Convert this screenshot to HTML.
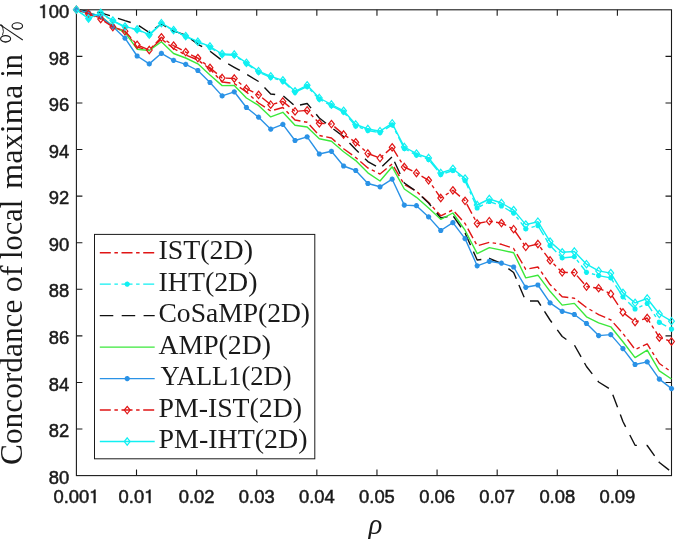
<!DOCTYPE html><html><head><meta charset="utf-8"><style>html,body{margin:0;padding:0;background:#fff;}svg{display:block;will-change:transform;}</style></head><body>
<svg width="685" height="539" viewBox="0 0 685 539">
<rect width="685" height="539" fill="#fff"/>
<defs><clipPath id="c"><rect x="70.4" y="3.8000000000000007" width="607.1" height="477.8"/></clipPath></defs>
<rect x="76.4" y="9.8" width="595.1" height="465.8" fill="none" stroke="#1a1a1a" stroke-width="1.1"/>
<path d="M136.51 475.6V469.6M136.51 9.8V15.8M196.62 475.6V469.6M196.62 9.8V15.8M256.73 475.6V469.6M256.73 9.8V15.8M316.84 475.6V469.6M316.84 9.8V15.8M376.96 475.6V469.6M376.96 9.8V15.8M437.07 475.6V469.6M437.07 9.8V15.8M497.18 475.6V469.6M497.18 9.8V15.8M557.29 475.6V469.6M557.29 9.8V15.8M617.40 475.6V469.6M617.40 9.8V15.8M76.4 429.02H82.4M671.5 429.02H665.5M76.4 382.44H82.4M671.5 382.44H665.5M76.4 335.86H82.4M671.5 335.86H665.5M76.4 289.28H82.4M671.5 289.28H665.5M76.4 242.70H82.4M671.5 242.70H665.5M76.4 196.12H82.4M671.5 196.12H665.5M76.4 149.54H82.4M671.5 149.54H665.5M76.4 102.96H82.4M671.5 102.96H665.5M76.4 56.38H82.4M671.5 56.38H665.5" stroke="#1a1a1a" stroke-width="1.1" fill="none"/>
<g fill="none" stroke-linejoin="round" clip-path="url(#c)"><polyline points="76.40,9.70 88.54,13.50 100.69,18.00 112.83,26.50 124.98,31.50 137.12,47.00 149.27,50.50 161.41,39.00 173.56,48.50 185.70,55.00 197.85,60.00 209.99,69.00 222.14,82.00 234.28,83.50 246.43,92.00 258.57,103.00 270.72,111.00 282.86,107.50 295.01,120.00 307.15,122.30 319.30,135.50 331.44,138.00 343.59,148.70 355.73,157.50 367.88,168.00 380.02,174.00 392.17,164.00 404.31,184.60 416.46,191.30 428.60,202.40 440.75,215.80 452.89,209.90 465.04,223.50 477.18,245.80 489.33,242.30 501.47,244.30 513.62,248.50 525.76,269.30 537.91,267.00 550.05,284.60 562.20,296.80 574.34,298.20 586.49,307.50 598.63,314.60 610.78,319.80 622.92,333.40 635.07,349.50 647.21,343.90 659.36,363.50 671.50,372.00" stroke="#E01515" stroke-width="1.4" stroke-dasharray="10.797 3.534 3.435 3.534" stroke-dashoffset="16.15"/></g>
<g fill="none" stroke-linejoin="round" clip-path="url(#c)"><polyline points="76.40,9.70 88.54,18.50 100.69,12.80 112.83,21.10 124.98,27.10 137.12,29.90 149.27,35.10 161.41,23.70 173.56,30.60 185.70,36.60 197.85,42.20 209.99,47.30 222.14,54.80 234.28,55.30 246.43,63.60 258.57,72.20 270.72,77.30 282.86,81.30 295.01,92.30 307.15,86.50 319.30,99.20 331.44,105.70 343.59,112.10 355.73,126.00 367.88,130.50 380.02,132.70 392.17,124.90 404.31,148.50 416.46,155.10 428.60,159.50 440.75,174.50 452.89,170.50 465.04,180.60 477.18,208.00 489.33,201.50 501.47,206.00 513.62,213.10 525.76,228.90 537.91,225.60 550.05,245.60 562.20,257.90 574.34,256.70 586.49,272.30 598.63,275.60 610.78,277.90 622.92,296.80 635.07,309.00 647.21,303.50 659.36,322.40 671.50,329.10" stroke="#10F0F2" stroke-width="1.4" stroke-dasharray="10.76 3.52 3.42 3.52"/></g>
<g fill="none"><circle cx="76.40" cy="9.70" r="1.7" fill="#10F0F2"/><path d="M73.80 9.70L79.00 9.70M74.56 7.86L78.24 11.54M76.40 7.10L76.40 12.30M78.24 7.86L74.56 11.54" stroke="#10F0F2" stroke-width="1.6"/><circle cx="88.54" cy="18.50" r="1.7" fill="#10F0F2"/><path d="M85.94 18.50L91.14 18.50M86.71 16.66L90.38 20.34M88.54 15.90L88.54 21.10M90.38 16.66L86.71 20.34" stroke="#10F0F2" stroke-width="1.6"/><circle cx="100.69" cy="12.80" r="1.7" fill="#10F0F2"/><path d="M98.09 12.80L103.29 12.80M98.85 10.96L102.53 14.64M100.69 10.20L100.69 15.40M102.53 10.96L98.85 14.64" stroke="#10F0F2" stroke-width="1.6"/><circle cx="112.83" cy="21.10" r="1.7" fill="#10F0F2"/><path d="M110.23 21.10L115.43 21.10M111.00 19.26L114.67 22.94M112.83 18.50L112.83 23.70M114.67 19.26L111.00 22.94" stroke="#10F0F2" stroke-width="1.6"/><circle cx="124.98" cy="27.10" r="1.7" fill="#10F0F2"/><path d="M122.38 27.10L127.58 27.10M123.14 25.26L126.82 28.94M124.98 24.50L124.98 29.70M126.82 25.26L123.14 28.94" stroke="#10F0F2" stroke-width="1.6"/><circle cx="137.12" cy="29.90" r="1.7" fill="#10F0F2"/><path d="M134.52 29.90L139.72 29.90M135.29 28.06L138.96 31.74M137.12 27.30L137.12 32.50M138.96 28.06L135.29 31.74" stroke="#10F0F2" stroke-width="1.6"/><circle cx="149.27" cy="35.10" r="1.7" fill="#10F0F2"/><path d="M146.67 35.10L151.87 35.10M147.43 33.26L151.11 36.94M149.27 32.50L149.27 37.70M151.11 33.26L147.43 36.94" stroke="#10F0F2" stroke-width="1.6"/><circle cx="161.41" cy="23.70" r="1.7" fill="#10F0F2"/><path d="M158.81 23.70L164.01 23.70M159.58 21.86L163.25 25.54M161.41 21.10L161.41 26.30M163.25 21.86L159.58 25.54" stroke="#10F0F2" stroke-width="1.6"/><circle cx="173.56" cy="30.60" r="1.7" fill="#10F0F2"/><path d="M170.96 30.60L176.16 30.60M171.72 28.76L175.40 32.44M173.56 28.00L173.56 33.20M175.40 28.76L171.72 32.44" stroke="#10F0F2" stroke-width="1.6"/><circle cx="185.70" cy="36.60" r="1.7" fill="#10F0F2"/><path d="M183.10 36.60L188.30 36.60M183.87 34.76L187.54 38.44M185.70 34.00L185.70 39.20M187.54 34.76L183.87 38.44" stroke="#10F0F2" stroke-width="1.6"/><circle cx="197.85" cy="42.20" r="1.7" fill="#10F0F2"/><path d="M195.25 42.20L200.45 42.20M196.01 40.36L199.69 44.04M197.85 39.60L197.85 44.80M199.69 40.36L196.01 44.04" stroke="#10F0F2" stroke-width="1.6"/><circle cx="209.99" cy="47.30" r="1.7" fill="#10F0F2"/><path d="M207.39 47.30L212.59 47.30M208.16 45.46L211.83 49.14M209.99 44.70L209.99 49.90M211.83 45.46L208.16 49.14" stroke="#10F0F2" stroke-width="1.6"/><circle cx="222.14" cy="54.80" r="1.7" fill="#10F0F2"/><path d="M219.54 54.80L224.74 54.80M220.30 52.96L223.98 56.64M222.14 52.20L222.14 57.40M223.98 52.96L220.30 56.64" stroke="#10F0F2" stroke-width="1.6"/><circle cx="234.28" cy="55.30" r="1.7" fill="#10F0F2"/><path d="M231.68 55.30L236.88 55.30M232.45 53.46L236.12 57.14M234.28 52.70L234.28 57.90M236.12 53.46L232.45 57.14" stroke="#10F0F2" stroke-width="1.6"/><circle cx="246.43" cy="63.60" r="1.7" fill="#10F0F2"/><path d="M243.83 63.60L249.03 63.60M244.59 61.76L248.27 65.44M246.43 61.00L246.43 66.20M248.27 61.76L244.59 65.44" stroke="#10F0F2" stroke-width="1.6"/><circle cx="258.57" cy="72.20" r="1.7" fill="#10F0F2"/><path d="M255.97 72.20L261.17 72.20M256.73 70.36L260.41 74.04M258.57 69.60L258.57 74.80M260.41 70.36L256.73 74.04" stroke="#10F0F2" stroke-width="1.6"/><circle cx="270.72" cy="77.30" r="1.7" fill="#10F0F2"/><path d="M268.12 77.30L273.32 77.30M268.88 75.46L272.56 79.14M270.72 74.70L270.72 79.90M272.56 75.46L268.88 79.14" stroke="#10F0F2" stroke-width="1.6"/><circle cx="282.86" cy="81.30" r="1.7" fill="#10F0F2"/><path d="M280.26 81.30L285.46 81.30M281.02 79.46L284.70 83.14M282.86 78.70L282.86 83.90M284.70 79.46L281.02 83.14" stroke="#10F0F2" stroke-width="1.6"/><circle cx="295.01" cy="92.30" r="1.7" fill="#10F0F2"/><path d="M292.41 92.30L297.61 92.30M293.17 90.46L296.85 94.14M295.01 89.70L295.01 94.90M296.85 90.46L293.17 94.14" stroke="#10F0F2" stroke-width="1.6"/><circle cx="307.15" cy="86.50" r="1.7" fill="#10F0F2"/><path d="M304.55 86.50L309.75 86.50M305.31 84.66L308.99 88.34M307.15 83.90L307.15 89.10M308.99 84.66L305.31 88.34" stroke="#10F0F2" stroke-width="1.6"/><circle cx="319.30" cy="99.20" r="1.7" fill="#10F0F2"/><path d="M316.70 99.20L321.90 99.20M317.46 97.36L321.14 101.04M319.30 96.60L319.30 101.80M321.14 97.36L317.46 101.04" stroke="#10F0F2" stroke-width="1.6"/><circle cx="331.44" cy="105.70" r="1.7" fill="#10F0F2"/><path d="M328.84 105.70L334.04 105.70M329.60 103.86L333.28 107.54M331.44 103.10L331.44 108.30M333.28 103.86L329.60 107.54" stroke="#10F0F2" stroke-width="1.6"/><circle cx="343.59" cy="112.10" r="1.7" fill="#10F0F2"/><path d="M340.99 112.10L346.19 112.10M341.75 110.26L345.43 113.94M343.59 109.50L343.59 114.70M345.43 110.26L341.75 113.94" stroke="#10F0F2" stroke-width="1.6"/><circle cx="355.73" cy="126.00" r="1.7" fill="#10F0F2"/><path d="M353.13 126.00L358.33 126.00M353.89 124.16L357.57 127.84M355.73 123.40L355.73 128.60M357.57 124.16L353.89 127.84" stroke="#10F0F2" stroke-width="1.6"/><circle cx="367.88" cy="130.50" r="1.7" fill="#10F0F2"/><path d="M365.28 130.50L370.48 130.50M366.04 128.66L369.72 132.34M367.88 127.90L367.88 133.10M369.72 128.66L366.04 132.34" stroke="#10F0F2" stroke-width="1.6"/><circle cx="380.02" cy="132.70" r="1.7" fill="#10F0F2"/><path d="M377.42 132.70L382.62 132.70M378.18 130.86L381.86 134.54M380.02 130.10L380.02 135.30M381.86 130.86L378.18 134.54" stroke="#10F0F2" stroke-width="1.6"/><circle cx="392.17" cy="124.90" r="1.7" fill="#10F0F2"/><path d="M389.57 124.90L394.77 124.90M390.33 123.06L394.01 126.74M392.17 122.30L392.17 127.50M394.01 123.06L390.33 126.74" stroke="#10F0F2" stroke-width="1.6"/><circle cx="404.31" cy="148.50" r="1.7" fill="#10F0F2"/><path d="M401.71 148.50L406.91 148.50M402.47 146.66L406.15 150.34M404.31 145.90L404.31 151.10M406.15 146.66L402.47 150.34" stroke="#10F0F2" stroke-width="1.6"/><circle cx="416.46" cy="155.10" r="1.7" fill="#10F0F2"/><path d="M413.86 155.10L419.06 155.10M414.62 153.26L418.30 156.94M416.46 152.50L416.46 157.70M418.30 153.26L414.62 156.94" stroke="#10F0F2" stroke-width="1.6"/><circle cx="428.60" cy="159.50" r="1.7" fill="#10F0F2"/><path d="M426.00 159.50L431.20 159.50M426.76 157.66L430.44 161.34M428.60 156.90L428.60 162.10M430.44 157.66L426.76 161.34" stroke="#10F0F2" stroke-width="1.6"/><circle cx="440.75" cy="174.50" r="1.7" fill="#10F0F2"/><path d="M438.15 174.50L443.35 174.50M438.91 172.66L442.59 176.34M440.75 171.90L440.75 177.10M442.59 172.66L438.91 176.34" stroke="#10F0F2" stroke-width="1.6"/><circle cx="452.89" cy="170.50" r="1.7" fill="#10F0F2"/><path d="M450.29 170.50L455.49 170.50M451.05 168.66L454.73 172.34M452.89 167.90L452.89 173.10M454.73 168.66L451.05 172.34" stroke="#10F0F2" stroke-width="1.6"/><circle cx="465.04" cy="180.60" r="1.7" fill="#10F0F2"/><path d="M462.44 180.60L467.64 180.60M463.20 178.76L466.88 182.44M465.04 178.00L465.04 183.20M466.88 178.76L463.20 182.44" stroke="#10F0F2" stroke-width="1.6"/><circle cx="477.18" cy="208.00" r="1.7" fill="#10F0F2"/><path d="M474.58 208.00L479.78 208.00M475.34 206.16L479.02 209.84M477.18 205.40L477.18 210.60M479.02 206.16L475.34 209.84" stroke="#10F0F2" stroke-width="1.6"/><circle cx="489.33" cy="201.50" r="1.7" fill="#10F0F2"/><path d="M486.73 201.50L491.93 201.50M487.49 199.66L491.17 203.34M489.33 198.90L489.33 204.10M491.17 199.66L487.49 203.34" stroke="#10F0F2" stroke-width="1.6"/><circle cx="501.47" cy="206.00" r="1.7" fill="#10F0F2"/><path d="M498.87 206.00L504.07 206.00M499.63 204.16L503.31 207.84M501.47 203.40L501.47 208.60M503.31 204.16L499.63 207.84" stroke="#10F0F2" stroke-width="1.6"/><circle cx="513.62" cy="213.10" r="1.7" fill="#10F0F2"/><path d="M511.02 213.10L516.22 213.10M511.78 211.26L515.45 214.94M513.62 210.50L513.62 215.70M515.45 211.26L511.78 214.94" stroke="#10F0F2" stroke-width="1.6"/><circle cx="525.76" cy="228.90" r="1.7" fill="#10F0F2"/><path d="M523.16 228.90L528.36 228.90M523.92 227.06L527.60 230.74M525.76 226.30L525.76 231.50M527.60 227.06L523.92 230.74" stroke="#10F0F2" stroke-width="1.6"/><circle cx="537.91" cy="225.60" r="1.7" fill="#10F0F2"/><path d="M535.31 225.60L540.51 225.60M536.07 223.76L539.74 227.44M537.91 223.00L537.91 228.20M539.74 223.76L536.07 227.44" stroke="#10F0F2" stroke-width="1.6"/><circle cx="550.05" cy="245.60" r="1.7" fill="#10F0F2"/><path d="M547.45 245.60L552.65 245.60M548.21 243.76L551.89 247.44M550.05 243.00L550.05 248.20M551.89 243.76L548.21 247.44" stroke="#10F0F2" stroke-width="1.6"/><circle cx="562.20" cy="257.90" r="1.7" fill="#10F0F2"/><path d="M559.60 257.90L564.80 257.90M560.36 256.06L564.03 259.74M562.20 255.30L562.20 260.50M564.03 256.06L560.36 259.74" stroke="#10F0F2" stroke-width="1.6"/><circle cx="574.34" cy="256.70" r="1.7" fill="#10F0F2"/><path d="M571.74 256.70L576.94 256.70M572.50 254.86L576.18 258.54M574.34 254.10L574.34 259.30M576.18 254.86L572.50 258.54" stroke="#10F0F2" stroke-width="1.6"/><circle cx="586.49" cy="272.30" r="1.7" fill="#10F0F2"/><path d="M583.89 272.30L589.09 272.30M584.65 270.46L588.32 274.14M586.49 269.70L586.49 274.90M588.32 270.46L584.65 274.14" stroke="#10F0F2" stroke-width="1.6"/><circle cx="598.63" cy="275.60" r="1.7" fill="#10F0F2"/><path d="M596.03 275.60L601.23 275.60M596.79 273.76L600.47 277.44M598.63 273.00L598.63 278.20M600.47 273.76L596.79 277.44" stroke="#10F0F2" stroke-width="1.6"/><circle cx="610.78" cy="277.90" r="1.7" fill="#10F0F2"/><path d="M608.18 277.90L613.38 277.90M608.94 276.06L612.61 279.74M610.78 275.30L610.78 280.50M612.61 276.06L608.94 279.74" stroke="#10F0F2" stroke-width="1.6"/><circle cx="622.92" cy="296.80" r="1.7" fill="#10F0F2"/><path d="M620.32 296.80L625.52 296.80M621.08 294.96L624.76 298.64M622.92 294.20L622.92 299.40M624.76 294.96L621.08 298.64" stroke="#10F0F2" stroke-width="1.6"/><circle cx="635.07" cy="309.00" r="1.7" fill="#10F0F2"/><path d="M632.47 309.00L637.67 309.00M633.23 307.16L636.90 310.84M635.07 306.40L635.07 311.60M636.90 307.16L633.23 310.84" stroke="#10F0F2" stroke-width="1.6"/><circle cx="647.21" cy="303.50" r="1.7" fill="#10F0F2"/><path d="M644.61 303.50L649.81 303.50M645.37 301.66L649.05 305.34M647.21 300.90L647.21 306.10M649.05 301.66L645.37 305.34" stroke="#10F0F2" stroke-width="1.6"/><circle cx="659.36" cy="322.40" r="1.7" fill="#10F0F2"/><path d="M656.76 322.40L661.96 322.40M657.52 320.56L661.19 324.24M659.36 319.80L659.36 325.00M661.19 320.56L657.52 324.24" stroke="#10F0F2" stroke-width="1.6"/><circle cx="671.50" cy="329.10" r="1.7" fill="#10F0F2"/><path d="M668.90 329.10L674.10 329.10M669.66 327.26L673.34 330.94M671.50 326.50L671.50 331.70M673.34 327.26L669.66 330.94" stroke="#10F0F2" stroke-width="1.6"/></g>
<g fill="none" stroke-linejoin="round" clip-path="url(#c)"><path d="M76.40 9.70L88.52 11.50M96.97 12.40L100.69 12.80L109.93 15.62M118.00 18.29L124.98 20.70L130.72 22.50M138.80 25.60L149.27 32.50L149.98 32.00M155.08 28.43L161.41 24.00L166.36 26.77M171.80 29.82L173.56 30.80L184.26 34.68M191.10 39.24L197.85 44.30L202.18 46.73M210.10 51.18L220.70 59.38M228.20 63.89L234.28 67.30L239.87 70.48M247.20 74.66L258.57 81.50L258.66 81.59M264.50 87.60L270.72 94.00L275.16 94.55M283.40 95.96L293.54 104.73M300.00 104.97L307.15 103.50L311.07 108.17M316.20 114.30L319.30 118.00L326.03 123.32M333.40 129.05L343.59 136.60L344.08 137.13M349.50 142.93L355.73 149.60L358.77 152.60M365.00 158.76L367.88 161.60L376.01 166.22M382.30 166.31L391.95 157.01M394.50 161.83L400.14 173.99M403.90 182.11L404.31 183.00L414.49 190.12M421.70 196.46L428.60 203.00L431.05 206.03M436.70 213.00L440.75 218.00L447.57 216.59M453.40 216.23L461.04 227.24M465.00 232.95L465.04 233.00L470.51 245.16M473.40 251.59L477.18 260.00L481.33 259.49M489.00 258.54L489.33 258.50L501.41 263.48M508.40 268.63L513.62 272.50L516.32 278.85M518.90 284.90L524.15 297.23M530.00 301.00L537.91 301.00L540.87 305.63M544.50 311.32L550.05 320.00L551.88 322.49M557.30 329.85L562.20 336.50L566.41 339.45M574.50 345.28L581.09 356.95M584.50 362.98L586.49 366.50L592.26 373.87M597.80 380.94L598.63 382.00L608.89 388.33M612.80 394.83L617.55 407.36M620.30 414.60L622.92 421.50L625.65 426.86M629.80 434.98L635.07 445.30L636.88 445.33M646.50 445.49L647.21 445.50L654.59 455.83M658.80 461.72L659.36 462.50L669.16 470.17" stroke="#111111" stroke-width="1.4"/></g>
<g fill="none" stroke-linejoin="round" clip-path="url(#c)"><polyline points="76.40,9.70 88.54,13.00 100.69,16.00 112.83,26.30 124.98,32.30 137.12,49.20 149.27,50.50 161.41,41.70 173.56,53.50 185.70,58.00 197.85,63.80 209.99,75.00 222.14,85.60 234.28,85.40 246.43,98.00 258.57,105.40 270.72,116.90 282.86,112.30 295.01,125.30 307.15,127.00 319.30,138.70 331.44,141.30 343.59,151.80 355.73,160.60 367.88,172.80 380.02,181.00 392.17,166.80 404.31,189.00 416.46,197.30 428.60,208.00 440.75,219.30 452.89,213.00 465.04,230.20 477.18,253.60 489.33,247.60 501.47,250.10 513.62,252.70 525.76,277.90 537.91,275.20 550.05,291.30 562.20,305.10 574.34,303.40 586.49,316.80 598.63,322.80 610.78,326.80 622.92,341.80 635.07,357.60 647.21,350.10 659.36,370.80 671.50,379.00" stroke="#3BE83B" stroke-width="1.4"/></g>
<g fill="none" stroke-linejoin="round" clip-path="url(#c)"><polyline points="76.40,9.70 88.54,13.00 100.69,16.50 112.83,26.50 124.98,38.20 137.12,56.00 149.27,63.90 161.41,53.30 173.56,60.30 185.70,64.30 197.85,70.50 209.99,82.50 222.14,95.90 234.28,91.80 246.43,107.50 258.57,117.20 270.72,129.20 282.86,124.40 295.01,140.50 307.15,136.80 319.30,154.00 331.44,151.30 343.59,166.00 355.73,170.50 367.88,183.50 380.02,186.80 392.17,179.20 404.31,205.10 416.46,205.70 428.60,216.90 440.75,230.50 452.89,222.60 465.04,238.60 477.18,265.80 489.33,261.30 501.47,263.20 513.62,267.00 525.76,287.30 537.91,285.00 550.05,302.90 562.20,311.30 574.34,314.50 586.49,323.50 598.63,335.60 610.78,334.60 622.92,348.60 635.07,364.50 647.21,361.90 659.36,379.10 671.50,388.60" stroke="#2A92E6" stroke-width="1.4"/></g>
<g fill="none"><circle cx="76.40" cy="9.70" r="1.7" fill="#2A92E6"/><path d="M73.80 9.70L79.00 9.70M74.56 7.86L78.24 11.54M76.40 7.10L76.40 12.30M78.24 7.86L74.56 11.54" stroke="#2A92E6" stroke-width="1.6"/><circle cx="88.54" cy="13.00" r="1.7" fill="#2A92E6"/><path d="M85.94 13.00L91.14 13.00M86.71 11.16L90.38 14.84M88.54 10.40L88.54 15.60M90.38 11.16L86.71 14.84" stroke="#2A92E6" stroke-width="1.6"/><circle cx="100.69" cy="16.50" r="1.7" fill="#2A92E6"/><path d="M98.09 16.50L103.29 16.50M98.85 14.66L102.53 18.34M100.69 13.90L100.69 19.10M102.53 14.66L98.85 18.34" stroke="#2A92E6" stroke-width="1.6"/><circle cx="112.83" cy="26.50" r="1.7" fill="#2A92E6"/><path d="M110.23 26.50L115.43 26.50M111.00 24.66L114.67 28.34M112.83 23.90L112.83 29.10M114.67 24.66L111.00 28.34" stroke="#2A92E6" stroke-width="1.6"/><circle cx="124.98" cy="38.20" r="1.7" fill="#2A92E6"/><path d="M122.38 38.20L127.58 38.20M123.14 36.36L126.82 40.04M124.98 35.60L124.98 40.80M126.82 36.36L123.14 40.04" stroke="#2A92E6" stroke-width="1.6"/><circle cx="137.12" cy="56.00" r="1.7" fill="#2A92E6"/><path d="M134.52 56.00L139.72 56.00M135.29 54.16L138.96 57.84M137.12 53.40L137.12 58.60M138.96 54.16L135.29 57.84" stroke="#2A92E6" stroke-width="1.6"/><circle cx="149.27" cy="63.90" r="1.7" fill="#2A92E6"/><path d="M146.67 63.90L151.87 63.90M147.43 62.06L151.11 65.74M149.27 61.30L149.27 66.50M151.11 62.06L147.43 65.74" stroke="#2A92E6" stroke-width="1.6"/><circle cx="161.41" cy="53.30" r="1.7" fill="#2A92E6"/><path d="M158.81 53.30L164.01 53.30M159.58 51.46L163.25 55.14M161.41 50.70L161.41 55.90M163.25 51.46L159.58 55.14" stroke="#2A92E6" stroke-width="1.6"/><circle cx="173.56" cy="60.30" r="1.7" fill="#2A92E6"/><path d="M170.96 60.30L176.16 60.30M171.72 58.46L175.40 62.14M173.56 57.70L173.56 62.90M175.40 58.46L171.72 62.14" stroke="#2A92E6" stroke-width="1.6"/><circle cx="185.70" cy="64.30" r="1.7" fill="#2A92E6"/><path d="M183.10 64.30L188.30 64.30M183.87 62.46L187.54 66.14M185.70 61.70L185.70 66.90M187.54 62.46L183.87 66.14" stroke="#2A92E6" stroke-width="1.6"/><circle cx="197.85" cy="70.50" r="1.7" fill="#2A92E6"/><path d="M195.25 70.50L200.45 70.50M196.01 68.66L199.69 72.34M197.85 67.90L197.85 73.10M199.69 68.66L196.01 72.34" stroke="#2A92E6" stroke-width="1.6"/><circle cx="209.99" cy="82.50" r="1.7" fill="#2A92E6"/><path d="M207.39 82.50L212.59 82.50M208.16 80.66L211.83 84.34M209.99 79.90L209.99 85.10M211.83 80.66L208.16 84.34" stroke="#2A92E6" stroke-width="1.6"/><circle cx="222.14" cy="95.90" r="1.7" fill="#2A92E6"/><path d="M219.54 95.90L224.74 95.90M220.30 94.06L223.98 97.74M222.14 93.30L222.14 98.50M223.98 94.06L220.30 97.74" stroke="#2A92E6" stroke-width="1.6"/><circle cx="234.28" cy="91.80" r="1.7" fill="#2A92E6"/><path d="M231.68 91.80L236.88 91.80M232.45 89.96L236.12 93.64M234.28 89.20L234.28 94.40M236.12 89.96L232.45 93.64" stroke="#2A92E6" stroke-width="1.6"/><circle cx="246.43" cy="107.50" r="1.7" fill="#2A92E6"/><path d="M243.83 107.50L249.03 107.50M244.59 105.66L248.27 109.34M246.43 104.90L246.43 110.10M248.27 105.66L244.59 109.34" stroke="#2A92E6" stroke-width="1.6"/><circle cx="258.57" cy="117.20" r="1.7" fill="#2A92E6"/><path d="M255.97 117.20L261.17 117.20M256.73 115.36L260.41 119.04M258.57 114.60L258.57 119.80M260.41 115.36L256.73 119.04" stroke="#2A92E6" stroke-width="1.6"/><circle cx="270.72" cy="129.20" r="1.7" fill="#2A92E6"/><path d="M268.12 129.20L273.32 129.20M268.88 127.36L272.56 131.04M270.72 126.60L270.72 131.80M272.56 127.36L268.88 131.04" stroke="#2A92E6" stroke-width="1.6"/><circle cx="282.86" cy="124.40" r="1.7" fill="#2A92E6"/><path d="M280.26 124.40L285.46 124.40M281.02 122.56L284.70 126.24M282.86 121.80L282.86 127.00M284.70 122.56L281.02 126.24" stroke="#2A92E6" stroke-width="1.6"/><circle cx="295.01" cy="140.50" r="1.7" fill="#2A92E6"/><path d="M292.41 140.50L297.61 140.50M293.17 138.66L296.85 142.34M295.01 137.90L295.01 143.10M296.85 138.66L293.17 142.34" stroke="#2A92E6" stroke-width="1.6"/><circle cx="307.15" cy="136.80" r="1.7" fill="#2A92E6"/><path d="M304.55 136.80L309.75 136.80M305.31 134.96L308.99 138.64M307.15 134.20L307.15 139.40M308.99 134.96L305.31 138.64" stroke="#2A92E6" stroke-width="1.6"/><circle cx="319.30" cy="154.00" r="1.7" fill="#2A92E6"/><path d="M316.70 154.00L321.90 154.00M317.46 152.16L321.14 155.84M319.30 151.40L319.30 156.60M321.14 152.16L317.46 155.84" stroke="#2A92E6" stroke-width="1.6"/><circle cx="331.44" cy="151.30" r="1.7" fill="#2A92E6"/><path d="M328.84 151.30L334.04 151.30M329.60 149.46L333.28 153.14M331.44 148.70L331.44 153.90M333.28 149.46L329.60 153.14" stroke="#2A92E6" stroke-width="1.6"/><circle cx="343.59" cy="166.00" r="1.7" fill="#2A92E6"/><path d="M340.99 166.00L346.19 166.00M341.75 164.16L345.43 167.84M343.59 163.40L343.59 168.60M345.43 164.16L341.75 167.84" stroke="#2A92E6" stroke-width="1.6"/><circle cx="355.73" cy="170.50" r="1.7" fill="#2A92E6"/><path d="M353.13 170.50L358.33 170.50M353.89 168.66L357.57 172.34M355.73 167.90L355.73 173.10M357.57 168.66L353.89 172.34" stroke="#2A92E6" stroke-width="1.6"/><circle cx="367.88" cy="183.50" r="1.7" fill="#2A92E6"/><path d="M365.28 183.50L370.48 183.50M366.04 181.66L369.72 185.34M367.88 180.90L367.88 186.10M369.72 181.66L366.04 185.34" stroke="#2A92E6" stroke-width="1.6"/><circle cx="380.02" cy="186.80" r="1.7" fill="#2A92E6"/><path d="M377.42 186.80L382.62 186.80M378.18 184.96L381.86 188.64M380.02 184.20L380.02 189.40M381.86 184.96L378.18 188.64" stroke="#2A92E6" stroke-width="1.6"/><circle cx="392.17" cy="179.20" r="1.7" fill="#2A92E6"/><path d="M389.57 179.20L394.77 179.20M390.33 177.36L394.01 181.04M392.17 176.60L392.17 181.80M394.01 177.36L390.33 181.04" stroke="#2A92E6" stroke-width="1.6"/><circle cx="404.31" cy="205.10" r="1.7" fill="#2A92E6"/><path d="M401.71 205.10L406.91 205.10M402.47 203.26L406.15 206.94M404.31 202.50L404.31 207.70M406.15 203.26L402.47 206.94" stroke="#2A92E6" stroke-width="1.6"/><circle cx="416.46" cy="205.70" r="1.7" fill="#2A92E6"/><path d="M413.86 205.70L419.06 205.70M414.62 203.86L418.30 207.54M416.46 203.10L416.46 208.30M418.30 203.86L414.62 207.54" stroke="#2A92E6" stroke-width="1.6"/><circle cx="428.60" cy="216.90" r="1.7" fill="#2A92E6"/><path d="M426.00 216.90L431.20 216.90M426.76 215.06L430.44 218.74M428.60 214.30L428.60 219.50M430.44 215.06L426.76 218.74" stroke="#2A92E6" stroke-width="1.6"/><circle cx="440.75" cy="230.50" r="1.7" fill="#2A92E6"/><path d="M438.15 230.50L443.35 230.50M438.91 228.66L442.59 232.34M440.75 227.90L440.75 233.10M442.59 228.66L438.91 232.34" stroke="#2A92E6" stroke-width="1.6"/><circle cx="452.89" cy="222.60" r="1.7" fill="#2A92E6"/><path d="M450.29 222.60L455.49 222.60M451.05 220.76L454.73 224.44M452.89 220.00L452.89 225.20M454.73 220.76L451.05 224.44" stroke="#2A92E6" stroke-width="1.6"/><circle cx="465.04" cy="238.60" r="1.7" fill="#2A92E6"/><path d="M462.44 238.60L467.64 238.60M463.20 236.76L466.88 240.44M465.04 236.00L465.04 241.20M466.88 236.76L463.20 240.44" stroke="#2A92E6" stroke-width="1.6"/><circle cx="477.18" cy="265.80" r="1.7" fill="#2A92E6"/><path d="M474.58 265.80L479.78 265.80M475.34 263.96L479.02 267.64M477.18 263.20L477.18 268.40M479.02 263.96L475.34 267.64" stroke="#2A92E6" stroke-width="1.6"/><circle cx="489.33" cy="261.30" r="1.7" fill="#2A92E6"/><path d="M486.73 261.30L491.93 261.30M487.49 259.46L491.17 263.14M489.33 258.70L489.33 263.90M491.17 259.46L487.49 263.14" stroke="#2A92E6" stroke-width="1.6"/><circle cx="501.47" cy="263.20" r="1.7" fill="#2A92E6"/><path d="M498.87 263.20L504.07 263.20M499.63 261.36L503.31 265.04M501.47 260.60L501.47 265.80M503.31 261.36L499.63 265.04" stroke="#2A92E6" stroke-width="1.6"/><circle cx="513.62" cy="267.00" r="1.7" fill="#2A92E6"/><path d="M511.02 267.00L516.22 267.00M511.78 265.16L515.45 268.84M513.62 264.40L513.62 269.60M515.45 265.16L511.78 268.84" stroke="#2A92E6" stroke-width="1.6"/><circle cx="525.76" cy="287.30" r="1.7" fill="#2A92E6"/><path d="M523.16 287.30L528.36 287.30M523.92 285.46L527.60 289.14M525.76 284.70L525.76 289.90M527.60 285.46L523.92 289.14" stroke="#2A92E6" stroke-width="1.6"/><circle cx="537.91" cy="285.00" r="1.7" fill="#2A92E6"/><path d="M535.31 285.00L540.51 285.00M536.07 283.16L539.74 286.84M537.91 282.40L537.91 287.60M539.74 283.16L536.07 286.84" stroke="#2A92E6" stroke-width="1.6"/><circle cx="550.05" cy="302.90" r="1.7" fill="#2A92E6"/><path d="M547.45 302.90L552.65 302.90M548.21 301.06L551.89 304.74M550.05 300.30L550.05 305.50M551.89 301.06L548.21 304.74" stroke="#2A92E6" stroke-width="1.6"/><circle cx="562.20" cy="311.30" r="1.7" fill="#2A92E6"/><path d="M559.60 311.30L564.80 311.30M560.36 309.46L564.03 313.14M562.20 308.70L562.20 313.90M564.03 309.46L560.36 313.14" stroke="#2A92E6" stroke-width="1.6"/><circle cx="574.34" cy="314.50" r="1.7" fill="#2A92E6"/><path d="M571.74 314.50L576.94 314.50M572.50 312.66L576.18 316.34M574.34 311.90L574.34 317.10M576.18 312.66L572.50 316.34" stroke="#2A92E6" stroke-width="1.6"/><circle cx="586.49" cy="323.50" r="1.7" fill="#2A92E6"/><path d="M583.89 323.50L589.09 323.50M584.65 321.66L588.32 325.34M586.49 320.90L586.49 326.10M588.32 321.66L584.65 325.34" stroke="#2A92E6" stroke-width="1.6"/><circle cx="598.63" cy="335.60" r="1.7" fill="#2A92E6"/><path d="M596.03 335.60L601.23 335.60M596.79 333.76L600.47 337.44M598.63 333.00L598.63 338.20M600.47 333.76L596.79 337.44" stroke="#2A92E6" stroke-width="1.6"/><circle cx="610.78" cy="334.60" r="1.7" fill="#2A92E6"/><path d="M608.18 334.60L613.38 334.60M608.94 332.76L612.61 336.44M610.78 332.00L610.78 337.20M612.61 332.76L608.94 336.44" stroke="#2A92E6" stroke-width="1.6"/><circle cx="622.92" cy="348.60" r="1.7" fill="#2A92E6"/><path d="M620.32 348.60L625.52 348.60M621.08 346.76L624.76 350.44M622.92 346.00L622.92 351.20M624.76 346.76L621.08 350.44" stroke="#2A92E6" stroke-width="1.6"/><circle cx="635.07" cy="364.50" r="1.7" fill="#2A92E6"/><path d="M632.47 364.50L637.67 364.50M633.23 362.66L636.90 366.34M635.07 361.90L635.07 367.10M636.90 362.66L633.23 366.34" stroke="#2A92E6" stroke-width="1.6"/><circle cx="647.21" cy="361.90" r="1.7" fill="#2A92E6"/><path d="M644.61 361.90L649.81 361.90M645.37 360.06L649.05 363.74M647.21 359.30L647.21 364.50M649.05 360.06L645.37 363.74" stroke="#2A92E6" stroke-width="1.6"/><circle cx="659.36" cy="379.10" r="1.7" fill="#2A92E6"/><path d="M656.76 379.10L661.96 379.10M657.52 377.26L661.19 380.94M659.36 376.50L659.36 381.70M661.19 377.26L657.52 380.94" stroke="#2A92E6" stroke-width="1.6"/><circle cx="671.50" cy="388.60" r="1.7" fill="#2A92E6"/><path d="M668.90 388.60L674.10 388.60M669.66 386.76L673.34 390.44M671.50 386.00L671.50 391.20M673.34 386.76L669.66 390.44" stroke="#2A92E6" stroke-width="1.6"/></g>
<g fill="none" stroke-linejoin="round" clip-path="url(#c)"><polyline points="76.40,9.70 88.54,14.00 100.69,19.00 112.83,27.00 124.98,31.20 137.12,44.80 149.27,50.00 161.41,37.30 173.56,45.60 185.70,52.10 197.85,58.10 209.99,67.80 222.14,78.00 234.28,78.50 246.43,88.70 258.57,94.80 270.72,104.70 282.86,101.50 295.01,111.40 307.15,110.40 319.30,123.30 331.44,124.10 343.59,134.50 355.73,142.30 367.88,153.50 380.02,158.10 392.17,147.30" stroke="#E01515" stroke-width="1.4" stroke-dasharray="10.797 3.534 3.435 3.534" stroke-dashoffset="12.19"/></g>
<g fill="none" stroke-linejoin="round" clip-path="url(#c)"><polyline points="392.17,147.30 404.31,167.00 416.46,173.00 428.60,180.30 440.75,198.00 452.89,190.30 465.04,200.80 477.18,223.50" stroke="#E01515" stroke-width="1.4" stroke-dasharray="10.797 3.534 3.435 3.534" stroke-dashoffset="21.27"/></g>
<g fill="none" stroke-linejoin="round" clip-path="url(#c)"><polyline points="477.18,223.50 489.33,221.20 501.47,223.10 513.62,229.20 525.76,246.80 537.91,244.00 550.05,260.40 562.20,272.30 574.34,272.60 586.49,286.60 598.63,288.20 610.78,293.90 622.92,312.40 635.07,322.00 647.21,318.00 659.36,337.50 671.50,341.50" stroke="#E01515" stroke-width="1.4" stroke-dasharray="10.797 3.534 3.435 3.534" stroke-dashoffset="2.15"/></g>
<g fill="none"><path d="M76.40 6.00L79.30 9.70L76.40 13.40L73.50 9.70Z" fill="none" stroke="#E01515" stroke-width="1.2"/><path d="M88.54 10.30L91.44 14.00L88.54 17.70L85.64 14.00Z" fill="none" stroke="#E01515" stroke-width="1.2"/><path d="M100.69 15.30L103.59 19.00L100.69 22.70L97.79 19.00Z" fill="none" stroke="#E01515" stroke-width="1.2"/><path d="M112.83 23.30L115.73 27.00L112.83 30.70L109.93 27.00Z" fill="none" stroke="#E01515" stroke-width="1.2"/><path d="M124.98 27.50L127.88 31.20L124.98 34.90L122.08 31.20Z" fill="none" stroke="#E01515" stroke-width="1.2"/><path d="M137.12 41.10L140.02 44.80L137.12 48.50L134.22 44.80Z" fill="none" stroke="#E01515" stroke-width="1.2"/><path d="M149.27 46.30L152.17 50.00L149.27 53.70L146.37 50.00Z" fill="none" stroke="#E01515" stroke-width="1.2"/><path d="M161.41 33.60L164.31 37.30L161.41 41.00L158.51 37.30Z" fill="none" stroke="#E01515" stroke-width="1.2"/><path d="M173.56 41.90L176.46 45.60L173.56 49.30L170.66 45.60Z" fill="none" stroke="#E01515" stroke-width="1.2"/><path d="M185.70 48.40L188.60 52.10L185.70 55.80L182.80 52.10Z" fill="none" stroke="#E01515" stroke-width="1.2"/><path d="M197.85 54.40L200.75 58.10L197.85 61.80L194.95 58.10Z" fill="none" stroke="#E01515" stroke-width="1.2"/><path d="M209.99 64.10L212.89 67.80L209.99 71.50L207.09 67.80Z" fill="none" stroke="#E01515" stroke-width="1.2"/><path d="M222.14 74.30L225.04 78.00L222.14 81.70L219.24 78.00Z" fill="none" stroke="#E01515" stroke-width="1.2"/><path d="M234.28 74.80L237.18 78.50L234.28 82.20L231.38 78.50Z" fill="none" stroke="#E01515" stroke-width="1.2"/><path d="M246.43 85.00L249.33 88.70L246.43 92.40L243.53 88.70Z" fill="none" stroke="#E01515" stroke-width="1.2"/><path d="M258.57 91.10L261.47 94.80L258.57 98.50L255.67 94.80Z" fill="none" stroke="#E01515" stroke-width="1.2"/><path d="M270.72 101.00L273.62 104.70L270.72 108.40L267.82 104.70Z" fill="none" stroke="#E01515" stroke-width="1.2"/><path d="M282.86 97.80L285.76 101.50L282.86 105.20L279.96 101.50Z" fill="none" stroke="#E01515" stroke-width="1.2"/><path d="M295.01 107.70L297.91 111.40L295.01 115.10L292.11 111.40Z" fill="none" stroke="#E01515" stroke-width="1.2"/><path d="M307.15 106.70L310.05 110.40L307.15 114.10L304.25 110.40Z" fill="none" stroke="#E01515" stroke-width="1.2"/><path d="M319.30 119.60L322.20 123.30L319.30 127.00L316.40 123.30Z" fill="none" stroke="#E01515" stroke-width="1.2"/><path d="M331.44 120.40L334.34 124.10L331.44 127.80L328.54 124.10Z" fill="none" stroke="#E01515" stroke-width="1.2"/><path d="M343.59 130.80L346.49 134.50L343.59 138.20L340.69 134.50Z" fill="none" stroke="#E01515" stroke-width="1.2"/><path d="M355.73 138.60L358.63 142.30L355.73 146.00L352.83 142.30Z" fill="none" stroke="#E01515" stroke-width="1.2"/><path d="M367.88 149.80L370.78 153.50L367.88 157.20L364.98 153.50Z" fill="none" stroke="#E01515" stroke-width="1.2"/><path d="M380.02 154.40L382.92 158.10L380.02 161.80L377.12 158.10Z" fill="none" stroke="#E01515" stroke-width="1.2"/><path d="M392.17 143.60L395.07 147.30L392.17 151.00L389.27 147.30Z" fill="none" stroke="#E01515" stroke-width="1.2"/><path d="M404.31 163.30L407.21 167.00L404.31 170.70L401.41 167.00Z" fill="none" stroke="#E01515" stroke-width="1.2"/><path d="M416.46 169.30L419.36 173.00L416.46 176.70L413.56 173.00Z" fill="none" stroke="#E01515" stroke-width="1.2"/><path d="M428.60 176.60L431.50 180.30L428.60 184.00L425.70 180.30Z" fill="none" stroke="#E01515" stroke-width="1.2"/><path d="M440.75 194.30L443.65 198.00L440.75 201.70L437.85 198.00Z" fill="none" stroke="#E01515" stroke-width="1.2"/><path d="M452.89 186.60L455.79 190.30L452.89 194.00L449.99 190.30Z" fill="none" stroke="#E01515" stroke-width="1.2"/><path d="M465.04 197.10L467.94 200.80L465.04 204.50L462.14 200.80Z" fill="none" stroke="#E01515" stroke-width="1.2"/><path d="M477.18 219.80L480.08 223.50L477.18 227.20L474.28 223.50Z" fill="none" stroke="#E01515" stroke-width="1.2"/><path d="M489.33 217.50L492.23 221.20L489.33 224.90L486.43 221.20Z" fill="none" stroke="#E01515" stroke-width="1.2"/><path d="M501.47 219.40L504.37 223.10L501.47 226.80L498.57 223.10Z" fill="none" stroke="#E01515" stroke-width="1.2"/><path d="M513.62 225.50L516.52 229.20L513.62 232.90L510.72 229.20Z" fill="none" stroke="#E01515" stroke-width="1.2"/><path d="M525.76 243.10L528.66 246.80L525.76 250.50L522.86 246.80Z" fill="none" stroke="#E01515" stroke-width="1.2"/><path d="M537.91 240.30L540.81 244.00L537.91 247.70L535.01 244.00Z" fill="none" stroke="#E01515" stroke-width="1.2"/><path d="M550.05 256.70L552.95 260.40L550.05 264.10L547.15 260.40Z" fill="none" stroke="#E01515" stroke-width="1.2"/><path d="M562.20 268.60L565.10 272.30L562.20 276.00L559.30 272.30Z" fill="none" stroke="#E01515" stroke-width="1.2"/><path d="M574.34 268.90L577.24 272.60L574.34 276.30L571.44 272.60Z" fill="none" stroke="#E01515" stroke-width="1.2"/><path d="M586.49 282.90L589.39 286.60L586.49 290.30L583.59 286.60Z" fill="none" stroke="#E01515" stroke-width="1.2"/><path d="M598.63 284.50L601.53 288.20L598.63 291.90L595.73 288.20Z" fill="none" stroke="#E01515" stroke-width="1.2"/><path d="M610.78 290.20L613.68 293.90L610.78 297.60L607.88 293.90Z" fill="none" stroke="#E01515" stroke-width="1.2"/><path d="M622.92 308.70L625.82 312.40L622.92 316.10L620.02 312.40Z" fill="none" stroke="#E01515" stroke-width="1.2"/><path d="M635.07 318.30L637.97 322.00L635.07 325.70L632.17 322.00Z" fill="none" stroke="#E01515" stroke-width="1.2"/><path d="M647.21 314.30L650.11 318.00L647.21 321.70L644.31 318.00Z" fill="none" stroke="#E01515" stroke-width="1.2"/><path d="M659.36 333.80L662.26 337.50L659.36 341.20L656.46 337.50Z" fill="none" stroke="#E01515" stroke-width="1.2"/><path d="M671.50 337.80L674.40 341.50L671.50 345.20L668.60 341.50Z" fill="none" stroke="#E01515" stroke-width="1.2"/></g>
<g fill="none" stroke-linejoin="round" clip-path="url(#c)"><polyline points="76.40,9.70 88.54,18.50 100.69,12.80 112.83,20.60 124.98,26.60 137.12,29.40 149.27,34.60 161.41,23.20 173.56,30.10 185.70,36.10 197.85,41.70 209.99,46.50 222.14,54.00 234.28,54.50 246.43,62.80 258.57,71.20 270.72,76.30 282.86,80.30 295.01,91.30 307.15,85.30 319.30,98.00 331.44,104.50 343.59,110.80 355.73,124.50 367.88,129.00 380.02,131.20 392.17,123.40 404.31,147.00 416.46,153.60 428.60,158.00 440.75,173.00 452.89,168.80 465.04,178.60 477.18,205.00 489.33,199.00 501.47,203.00 513.62,210.10 525.76,224.60 537.91,221.70 550.05,241.60 562.20,252.30 574.34,251.50 586.49,264.20 598.63,270.90 610.78,273.10 622.92,292.80 635.07,302.90 647.21,298.50 659.36,314.00 671.50,321.20" stroke="#10F0F2" stroke-width="1.4"/></g>
<g fill="none"><path d="M76.40 6.00L79.30 9.70L76.40 13.40L73.50 9.70Z" fill="none" stroke="#10F0F2" stroke-width="1.2"/><path d="M88.54 14.80L91.44 18.50L88.54 22.20L85.64 18.50Z" fill="none" stroke="#10F0F2" stroke-width="1.2"/><path d="M100.69 9.10L103.59 12.80L100.69 16.50L97.79 12.80Z" fill="none" stroke="#10F0F2" stroke-width="1.2"/><path d="M112.83 16.90L115.73 20.60L112.83 24.30L109.93 20.60Z" fill="none" stroke="#10F0F2" stroke-width="1.2"/><path d="M124.98 22.90L127.88 26.60L124.98 30.30L122.08 26.60Z" fill="none" stroke="#10F0F2" stroke-width="1.2"/><path d="M137.12 25.70L140.02 29.40L137.12 33.10L134.22 29.40Z" fill="none" stroke="#10F0F2" stroke-width="1.2"/><path d="M149.27 30.90L152.17 34.60L149.27 38.30L146.37 34.60Z" fill="none" stroke="#10F0F2" stroke-width="1.2"/><path d="M161.41 19.50L164.31 23.20L161.41 26.90L158.51 23.20Z" fill="none" stroke="#10F0F2" stroke-width="1.2"/><path d="M173.56 26.40L176.46 30.10L173.56 33.80L170.66 30.10Z" fill="none" stroke="#10F0F2" stroke-width="1.2"/><path d="M185.70 32.40L188.60 36.10L185.70 39.80L182.80 36.10Z" fill="none" stroke="#10F0F2" stroke-width="1.2"/><path d="M197.85 38.00L200.75 41.70L197.85 45.40L194.95 41.70Z" fill="none" stroke="#10F0F2" stroke-width="1.2"/><path d="M209.99 42.80L212.89 46.50L209.99 50.20L207.09 46.50Z" fill="none" stroke="#10F0F2" stroke-width="1.2"/><path d="M222.14 50.30L225.04 54.00L222.14 57.70L219.24 54.00Z" fill="none" stroke="#10F0F2" stroke-width="1.2"/><path d="M234.28 50.80L237.18 54.50L234.28 58.20L231.38 54.50Z" fill="none" stroke="#10F0F2" stroke-width="1.2"/><path d="M246.43 59.10L249.33 62.80L246.43 66.50L243.53 62.80Z" fill="none" stroke="#10F0F2" stroke-width="1.2"/><path d="M258.57 67.50L261.47 71.20L258.57 74.90L255.67 71.20Z" fill="none" stroke="#10F0F2" stroke-width="1.2"/><path d="M270.72 72.60L273.62 76.30L270.72 80.00L267.82 76.30Z" fill="none" stroke="#10F0F2" stroke-width="1.2"/><path d="M282.86 76.60L285.76 80.30L282.86 84.00L279.96 80.30Z" fill="none" stroke="#10F0F2" stroke-width="1.2"/><path d="M295.01 87.60L297.91 91.30L295.01 95.00L292.11 91.30Z" fill="none" stroke="#10F0F2" stroke-width="1.2"/><path d="M307.15 81.60L310.05 85.30L307.15 89.00L304.25 85.30Z" fill="none" stroke="#10F0F2" stroke-width="1.2"/><path d="M319.30 94.30L322.20 98.00L319.30 101.70L316.40 98.00Z" fill="none" stroke="#10F0F2" stroke-width="1.2"/><path d="M331.44 100.80L334.34 104.50L331.44 108.20L328.54 104.50Z" fill="none" stroke="#10F0F2" stroke-width="1.2"/><path d="M343.59 107.10L346.49 110.80L343.59 114.50L340.69 110.80Z" fill="none" stroke="#10F0F2" stroke-width="1.2"/><path d="M355.73 120.80L358.63 124.50L355.73 128.20L352.83 124.50Z" fill="none" stroke="#10F0F2" stroke-width="1.2"/><path d="M367.88 125.30L370.78 129.00L367.88 132.70L364.98 129.00Z" fill="none" stroke="#10F0F2" stroke-width="1.2"/><path d="M380.02 127.50L382.92 131.20L380.02 134.90L377.12 131.20Z" fill="none" stroke="#10F0F2" stroke-width="1.2"/><path d="M392.17 119.70L395.07 123.40L392.17 127.10L389.27 123.40Z" fill="none" stroke="#10F0F2" stroke-width="1.2"/><path d="M404.31 143.30L407.21 147.00L404.31 150.70L401.41 147.00Z" fill="none" stroke="#10F0F2" stroke-width="1.2"/><path d="M416.46 149.90L419.36 153.60L416.46 157.30L413.56 153.60Z" fill="none" stroke="#10F0F2" stroke-width="1.2"/><path d="M428.60 154.30L431.50 158.00L428.60 161.70L425.70 158.00Z" fill="none" stroke="#10F0F2" stroke-width="1.2"/><path d="M440.75 169.30L443.65 173.00L440.75 176.70L437.85 173.00Z" fill="none" stroke="#10F0F2" stroke-width="1.2"/><path d="M452.89 165.10L455.79 168.80L452.89 172.50L449.99 168.80Z" fill="none" stroke="#10F0F2" stroke-width="1.2"/><path d="M465.04 174.90L467.94 178.60L465.04 182.30L462.14 178.60Z" fill="none" stroke="#10F0F2" stroke-width="1.2"/><path d="M477.18 201.30L480.08 205.00L477.18 208.70L474.28 205.00Z" fill="none" stroke="#10F0F2" stroke-width="1.2"/><path d="M489.33 195.30L492.23 199.00L489.33 202.70L486.43 199.00Z" fill="none" stroke="#10F0F2" stroke-width="1.2"/><path d="M501.47 199.30L504.37 203.00L501.47 206.70L498.57 203.00Z" fill="none" stroke="#10F0F2" stroke-width="1.2"/><path d="M513.62 206.40L516.52 210.10L513.62 213.80L510.72 210.10Z" fill="none" stroke="#10F0F2" stroke-width="1.2"/><path d="M525.76 220.90L528.66 224.60L525.76 228.30L522.86 224.60Z" fill="none" stroke="#10F0F2" stroke-width="1.2"/><path d="M537.91 218.00L540.81 221.70L537.91 225.40L535.01 221.70Z" fill="none" stroke="#10F0F2" stroke-width="1.2"/><path d="M550.05 237.90L552.95 241.60L550.05 245.30L547.15 241.60Z" fill="none" stroke="#10F0F2" stroke-width="1.2"/><path d="M562.20 248.60L565.10 252.30L562.20 256.00L559.30 252.30Z" fill="none" stroke="#10F0F2" stroke-width="1.2"/><path d="M574.34 247.80L577.24 251.50L574.34 255.20L571.44 251.50Z" fill="none" stroke="#10F0F2" stroke-width="1.2"/><path d="M586.49 260.50L589.39 264.20L586.49 267.90L583.59 264.20Z" fill="none" stroke="#10F0F2" stroke-width="1.2"/><path d="M598.63 267.20L601.53 270.90L598.63 274.60L595.73 270.90Z" fill="none" stroke="#10F0F2" stroke-width="1.2"/><path d="M610.78 269.40L613.68 273.10L610.78 276.80L607.88 273.10Z" fill="none" stroke="#10F0F2" stroke-width="1.2"/><path d="M622.92 289.10L625.82 292.80L622.92 296.50L620.02 292.80Z" fill="none" stroke="#10F0F2" stroke-width="1.2"/><path d="M635.07 299.20L637.97 302.90L635.07 306.60L632.17 302.90Z" fill="none" stroke="#10F0F2" stroke-width="1.2"/><path d="M647.21 294.80L650.11 298.50L647.21 302.20L644.31 298.50Z" fill="none" stroke="#10F0F2" stroke-width="1.2"/><path d="M659.36 310.30L662.26 314.00L659.36 317.70L656.46 314.00Z" fill="none" stroke="#10F0F2" stroke-width="1.2"/><path d="M671.50 317.50L674.40 321.20L671.50 324.90L668.60 321.20Z" fill="none" stroke="#10F0F2" stroke-width="1.2"/></g>
<g font-family="Liberation Sans, sans-serif" font-size="18.4" fill="#1a1a1a" stroke="#1a1a1a" stroke-width="0.5">
<text transform="translate(76.40,502.80) scale(1,1.045)" text-anchor="middle">0.00 </text>
<text transform="translate(136.51,502.80) scale(1,1.045)" text-anchor="middle">0.0 </text>
<text transform="translate(196.62,502.80) scale(1,1.045)" text-anchor="middle">0.02</text>
<text transform="translate(256.73,502.80) scale(1,1.045)" text-anchor="middle">0.03</text>
<text transform="translate(316.84,502.80) scale(1,1.045)" text-anchor="middle">0.04</text>
<text transform="translate(376.96,502.80) scale(1,1.045)" text-anchor="middle">0.05</text>
<text transform="translate(437.07,502.80) scale(1,1.045)" text-anchor="middle">0.06</text>
<text transform="translate(497.18,502.80) scale(1,1.045)" text-anchor="middle">0.07</text>
<text transform="translate(557.29,502.80) scale(1,1.045)" text-anchor="middle">0.08</text>
<text transform="translate(617.40,502.80) scale(1,1.045)" text-anchor="middle">0.09</text>
<text transform="translate(69.20,483.80) scale(1,1.045)" text-anchor="end">80</text>
<text transform="translate(69.20,437.22) scale(1,1.045)" text-anchor="end">82</text>
<text transform="translate(69.20,390.64) scale(1,1.045)" text-anchor="end">84</text>
<text transform="translate(69.20,344.06) scale(1,1.045)" text-anchor="end">86</text>
<text transform="translate(69.20,297.48) scale(1,1.045)" text-anchor="end">88</text>
<text transform="translate(69.20,250.90) scale(1,1.045)" text-anchor="end">90</text>
<text transform="translate(69.20,204.32) scale(1,1.045)" text-anchor="end">92</text>
<text transform="translate(69.20,157.74) scale(1,1.045)" text-anchor="end">94</text>
<text transform="translate(69.20,111.16) scale(1,1.045)" text-anchor="end">96</text>
<text transform="translate(69.20,64.58) scale(1,1.045)" text-anchor="end">98</text>
<text transform="translate(69.20,18.00) scale(1,1.045)" text-anchor="end"> 00</text>
<path transform="translate(89.19,503) scale(0.008984,-0.009389)" d="M515 0L696 0L696 1409L560 1409C530 1290 420 1225 200 1210L200 1080L515 1080Z" stroke-width="55.7"/>
<path transform="translate(144.18,503) scale(0.008984,-0.009389)" d="M515 0L696 0L696 1409L560 1409C530 1290 420 1225 200 1210L200 1080L515 1080Z" stroke-width="55.7"/>
<path transform="translate(38.50,18) scale(0.008984,-0.009389)" d="M515 0L696 0L696 1409L560 1409C530 1290 420 1225 200 1210L200 1080L515 1080Z" stroke-width="55.7"/>
</g>
<text x="368.4" y="533.6" font-family="Liberation Serif, serif" font-style="italic" font-size="28.8" fill="#1a1a1a">ρ</text>
<g fill="none" stroke="#1a1a1a"><path d="M0.3 24.9L22.8 40" stroke-width="1.05"/><path d="M0.4 24.6Q2.6 25.8 2.9 27.6" stroke-width="1.6"/><path d="M2.7 27.6Q4.3 31.5 2.4 35.3" stroke-width="0.9"/><ellipse cx="17.3" cy="25.95" rx="5.25" ry="3.2" stroke-width="1.15"/><path d="M12.3 27.2Q17.3 30.6 22.3 27.2" stroke-width="0.7"/><ellipse cx="5.6" cy="38.8" rx="5.0" ry="3.25" stroke-width="1.15"/><path d="M0.8 40.1Q5.6 43.4 10.4 40.1" stroke-width="0.7"/></g>
<text transform="translate(22.3,465.00) rotate(-90)" font-family="Liberation Serif, serif" font-size="32.5" fill="#1a1a1a" textLength="165.40" lengthAdjust="spacingAndGlyphs">Concordance</text>
<text transform="translate(22.3,292.30) rotate(-90)" font-family="Liberation Serif, serif" font-size="32.5" fill="#1a1a1a" textLength="26.60" lengthAdjust="spacingAndGlyphs">of</text>
<text transform="translate(22.3,258.90) rotate(-90)" font-family="Liberation Serif, serif" font-size="32.5" fill="#1a1a1a" textLength="59.10" lengthAdjust="spacingAndGlyphs">local</text>
<text transform="translate(22.3,189.00) rotate(-90)" font-family="Liberation Serif, serif" font-size="32.5" fill="#1a1a1a" textLength="104.40" lengthAdjust="spacingAndGlyphs">maxima</text>
<text transform="translate(22.3,77.50) rotate(-90)" font-family="Liberation Serif, serif" font-size="32.5" fill="#1a1a1a" textLength="23.40" lengthAdjust="spacingAndGlyphs">in</text>
<rect x="94.5" y="234.4" width="220.3" height="224.4" fill="#fff" stroke="#1a1a1a" stroke-width="1"/>
<line x1="99.8" y1="252.70" x2="154.7" y2="252.70" stroke="#E01515" stroke-width="1.4" stroke-dasharray="11 3.6 3.5 3.6"/>
<text x="158.5" y="259.30" font-family="Liberation Serif, serif" font-size="27" fill="#1a1a1a" textLength="94.5" lengthAdjust="spacingAndGlyphs">IST(2D)</text>
<line x1="99.8" y1="284.17" x2="154.7" y2="284.17" stroke="#10F0F2" stroke-width="1.4" stroke-dasharray="11 3.6 3.5 3.6"/>
<circle cx="127.20" cy="284.17" r="1.7" fill="#10F0F2"/><path d="M124.60 284.17L129.80 284.17M125.36 282.33L129.04 286.01M127.20 281.57L127.20 286.77M129.04 282.33L125.36 286.01" stroke="#10F0F2" stroke-width="1.6"/>
<text x="158.5" y="290.77" font-family="Liberation Serif, serif" font-size="27" fill="#1a1a1a" textLength="99" lengthAdjust="spacingAndGlyphs">IHT(2D)</text>
<line x1="99.8" y1="315.64" x2="154.7" y2="315.64" stroke="#111111" stroke-width="1.4" stroke-dasharray="13.5 8.4"/>
<text x="158.5" y="322.24" font-family="Liberation Serif, serif" font-size="27" fill="#1a1a1a" textLength="151.5" lengthAdjust="spacingAndGlyphs">CoSaMP(2D)</text>
<line x1="99.8" y1="347.11" x2="154.7" y2="347.11" stroke="#3BE83B" stroke-width="1.4"/>
<text x="158.5" y="353.71" font-family="Liberation Serif, serif" font-size="27" fill="#1a1a1a" textLength="112.5" lengthAdjust="spacingAndGlyphs">AMP(2D)</text>
<line x1="99.8" y1="378.58" x2="154.7" y2="378.58" stroke="#2A92E6" stroke-width="1.4"/>
<circle cx="127.20" cy="378.58" r="1.7" fill="#2A92E6"/><path d="M124.60 378.58L129.80 378.58M125.36 376.74L129.04 380.42M127.20 375.98L127.20 381.18M129.04 376.74L125.36 380.42" stroke="#2A92E6" stroke-width="1.6"/>
<text x="160.6" y="385.18" font-family="Liberation Serif, serif" font-size="27" fill="#1a1a1a" textLength="131" lengthAdjust="spacingAndGlyphs">YALL1(2D)</text>
<line x1="99.8" y1="410.05" x2="154.7" y2="410.05" stroke="#E01515" stroke-width="1.4" stroke-dasharray="11 3.6 3.5 3.6"/>
<path d="M127.20 406.35L130.10 410.05L127.20 413.75L124.30 410.05Z" fill="none" stroke="#E01515" stroke-width="1.2"/>
<text x="158.5" y="416.65" font-family="Liberation Serif, serif" font-size="27" fill="#1a1a1a" textLength="143.5" lengthAdjust="spacingAndGlyphs">PM-IST(2D)</text>
<line x1="99.8" y1="441.52" x2="154.7" y2="441.52" stroke="#10F0F2" stroke-width="1.4"/>
<path d="M127.20 437.82L130.10 441.52L127.20 445.22L124.30 441.52Z" fill="none" stroke="#10F0F2" stroke-width="1.2"/>
<text x="158.5" y="448.12" font-family="Liberation Serif, serif" font-size="27" fill="#1a1a1a" textLength="149" lengthAdjust="spacingAndGlyphs">PM-IHT(2D)</text>
</svg></body></html>
